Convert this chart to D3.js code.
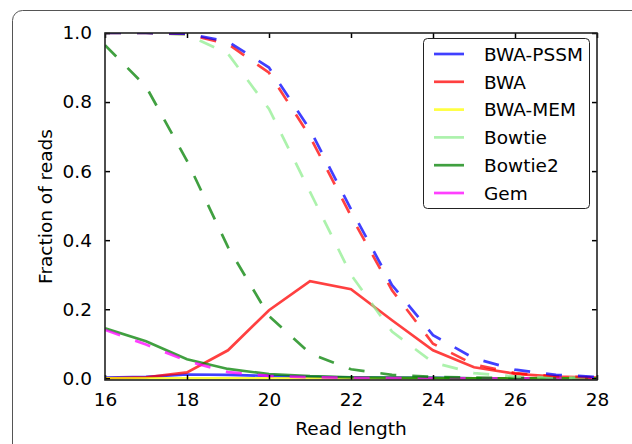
<!DOCTYPE html>
<html><head><meta charset="utf-8">
<script src="https://cdn.jsdelivr.net/npm/d3@7"></script>
<style>
html,body{margin:0;padding:0;background:#fff;}
svg text{font-family:"DejaVu Sans",sans-serif;fill:#000;}
</style></head>
<body><svg id="c" width="632" height="444"></svg>
<script>
const readLength = [16,17,18,19,20,21,22,23,24,25,26,27,28];
const tools = ["BWA-PSSM","BWA","BWA-MEM","Bowtie","Bowtie2","Gem"];
const colors = ["#0000ff","#ff0000","#ffff00","#90ee90","#008000","#ff00ff"];
const xTicks = [16,18,20,22,24,26,28];
const yTicks = [0.0,0.2,0.4,0.6,0.8,1.0];

// solid lines
const solidBWAPSSM = [0.002,0.004,0.011,0.010,0.007,0.004,0.002,0.001,0.001,0,0,0,0];
const solidBWA     = [0.0,0.003,0.017,0.081,0.197,0.281,0.258,0.168,0.081,0.032,0.013,0.005,0.002];
const solidBWAMEM  = [0,0,0,0,0,0,0,0,0,0,0,0,0];
const solidBowtie2 = [0.145,0.107,0.055,0.027,0.012,0.006,0.003,0.002,0.001,0,0,0,0];

// dashed lines
const dashGem      = [0.14,0.098,0.05,0.018,0.007,0.003,0.001,0.0005,0,0,0,0,0];
const dashBowtie2  = [0.965,0.845,0.63,0.38,0.18,0.072,0.026,0.01,0.004,0.002,0.001,0.0005,0.0002];
const dashBowtie   = [1.0,1.0,0.995,0.94,0.78,0.54,0.30,0.135,0.046,0.015,0.005,0.002,0.001];
const dashBWA      = [1.0,1.0,0.997,0.968,0.885,0.70,0.47,0.255,0.10,0.04,0.015,0.006,0.002];
const dashBWAPSSM  = [1.0,1.0,0.998,0.975,0.90,0.72,0.49,0.27,0.125,0.058,0.025,0.01,0.004];

const series = [
  {tool:"BWA-PSSM", vals:solidBWAPSSM, dash:false},
  {tool:"BWA", vals:solidBWA, dash:false},
  {tool:"BWA-MEM", vals:solidBWAMEM, dash:false},
  {tool:"Bowtie2", vals:solidBowtie2, dash:false},
  {tool:"Gem", vals:dashGem, dash:true},
  {tool:"Bowtie2", vals:dashBowtie2, dash:true},
  {tool:"Bowtie", vals:dashBowtie, dash:true},
  {tool:"BWA", vals:dashBWA, dash:true},
  {tool:"BWA-PSSM", vals:dashBWAPSSM, dash:true}
];

const svg = d3.select("#c");
const L=105, R=597, T=33, B=380;
const x = d3.scaleLinear().domain([16,28]).range([L,R]);
const y = d3.scaleLinear().domain([-0.005,1.0]).range([B,T]);
const color = d3.scaleOrdinal().domain(tools).range(colors);

// card border
svg.append("rect").attr("x",12.5).attr("y",10.5).attr("width",700).attr("height",500)
  .attr("rx",10).attr("fill","none").attr("stroke","#555").attr("stroke-width",1);

svg.append("defs").append("clipPath").attr("id","clip")
  .append("rect").attr("x",L).attr("y",T).attr("width",R-L).attr("height",B-T);

const line = d3.line().x((d,i)=>x(readLength[i])).y(d=>y(d));
const g = svg.append("g").attr("clip-path","url(#clip)");
series.forEach(s=>{
  g.append("path").attr("d",line(s.vals)).attr("fill","none")
    .attr("stroke",color(s.tool)).attr("stroke-opacity",0.75)
    .attr("stroke-width",2.7)
    .attr("stroke-dasharray", s.dash ? "16,16" : null);
});

// axes (inner ticks on all sides)
const fs = "18.5px";
const axB = svg.append("g").attr("transform",`translate(0,${B})`)
  .call(d3.axisBottom(x).tickValues(xTicks).tickSizeInner(-5).tickSizeOuter(0).tickPadding(13).tickFormat(d3.format("d")));
const axT = svg.append("g").attr("transform",`translate(0,${T})`)
  .call(d3.axisTop(x).tickValues(xTicks).tickSizeInner(-5).tickSizeOuter(0).tickFormat(""));
const axL = svg.append("g").attr("transform",`translate(${L},0)`)
  .call(d3.axisLeft(y).tickValues(yTicks).tickSizeInner(-5).tickSizeOuter(0).tickPadding(13).tickFormat(d3.format(".1f")));
const axR = svg.append("g").attr("transform",`translate(${R},0)`)
  .call(d3.axisRight(y).tickValues(yTicks).tickSizeInner(-5).tickSizeOuter(0).tickFormat(""));
[axB,axT,axL,axR].forEach(a=>{
  a.selectAll(".domain").remove();
  a.selectAll(".tick line").attr("stroke","#000").attr("stroke-width",1.5);
  a.selectAll("text").attr("font-size",fs).attr("font-family","DejaVu Sans").attr("fill","#000");
});
svg.append("rect").attr("x",L).attr("y",T).attr("width",R-L).attr("height",B-T)
  .attr("fill","none").attr("stroke","#222").attr("stroke-width",1.6);

svg.append("text").attr("x",(L+R)/2).attr("y",435).attr("text-anchor","middle")
  .attr("font-size",fs).text("Read length");
svg.append("text").attr("transform",`translate(52,${(T+B)/2}) rotate(-90)`)
  .attr("text-anchor","middle").attr("font-size",fs).text("Fraction of reads");

// legend
const lg = svg.append("g");
lg.append("rect").attr("x",423.5).attr("y",38.5).attr("width",166).attr("height",170)
  .attr("rx",4).attr("fill","#fff").attr("stroke","#222").attr("stroke-width",1);
tools.forEach((t,i)=>{
  const yy = 54 + i*27.8;
  lg.append("line").attr("x1",434).attr("x2",464).attr("y1",yy).attr("y2",yy)
    .attr("stroke",color(t)).attr("stroke-opacity",0.75).attr("stroke-width",2.7);
  lg.append("text").attr("x",484).attr("y",yy+6.7).attr("font-size",fs).text(t);
});
</script></body></html>
